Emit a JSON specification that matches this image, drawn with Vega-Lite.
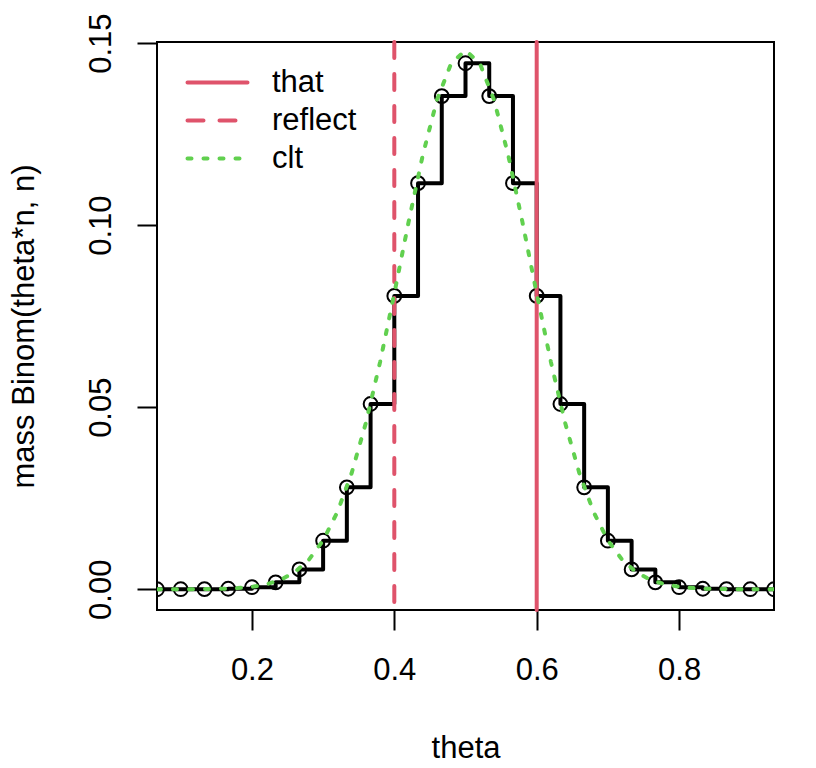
{
  "$schema": "https://vega.github.io/schema/vega-lite/v6.json",
  "width": 617,
  "height": 568,
  "autosize": "none",
  "padding": {"left": 157, "top": 42, "right": 42, "bottom": 158},
  "background": "white",
  "datasets": {
    "pmf": [
      {"theta": 0.066667, "mass": 0.0000004},
      {"theta": 0.1, "mass": 0.0000038},
      {"theta": 0.133333, "mass": 0.0000255},
      {"theta": 0.166667, "mass": 0.0001327},
      {"theta": 0.2, "mass": 0.000553},
      {"theta": 0.233333, "mass": 0.001896},
      {"theta": 0.266667, "mass": 0.005451},
      {"theta": 0.3, "mass": 0.013325},
      {"theta": 0.333333, "mass": 0.027982},
      {"theta": 0.366667, "mass": 0.050875},
      {"theta": 0.4, "mass": 0.080553},
      {"theta": 0.433333, "mass": 0.111535},
      {"theta": 0.466667, "mass": 0.135435},
      {"theta": 0.5, "mass": 0.144464},
      {"theta": 0.533333, "mass": 0.135435},
      {"theta": 0.566667, "mass": 0.111535},
      {"theta": 0.6, "mass": 0.080553},
      {"theta": 0.633333, "mass": 0.050875},
      {"theta": 0.666667, "mass": 0.027982},
      {"theta": 0.7, "mass": 0.013325},
      {"theta": 0.733333, "mass": 0.005451},
      {"theta": 0.766667, "mass": 0.001896},
      {"theta": 0.8, "mass": 0.000553},
      {"theta": 0.833333, "mass": 0.0001327},
      {"theta": 0.866667, "mass": 0.0000255},
      {"theta": 0.9, "mass": 0.0000038},
      {"theta": 0.933333, "mass": 0.0000004}
    ],
    "clt": [
      {"theta": 0.066667, "mass": 0.0000019, "series": "clt"},
      {"theta": 0.08, "mass": 0.0000037, "series": "clt"},
      {"theta": 0.1, "mass": 0.00001, "series": "clt"},
      {"theta": 0.12, "mass": 0.0000256, "series": "clt"},
      {"theta": 0.14, "mass": 0.000062, "series": "clt"},
      {"theta": 0.16, "mass": 0.000143, "series": "clt"},
      {"theta": 0.18, "mass": 0.000317, "series": "clt"},
      {"theta": 0.2, "mass": 0.000669, "series": "clt"},
      {"theta": 0.22, "mass": 0.00134, "series": "clt"},
      {"theta": 0.24, "mass": 0.002564, "series": "clt"},
      {"theta": 0.26, "mass": 0.00467, "series": "clt"},
      {"theta": 0.28, "mass": 0.008109, "series": "clt"},
      {"theta": 0.3, "mass": 0.01343, "series": "clt"},
      {"theta": 0.32, "mass": 0.02118, "series": "clt"},
      {"theta": 0.34, "mass": 0.03185, "series": "clt"},
      {"theta": 0.36, "mass": 0.04566, "series": "clt"},
      {"theta": 0.38, "mass": 0.06238, "series": "clt"},
      {"theta": 0.4, "mass": 0.08122, "series": "clt"},
      {"theta": 0.42, "mass": 0.10081, "series": "clt"},
      {"theta": 0.44, "mass": 0.11924, "series": "clt"},
      {"theta": 0.46, "mass": 0.13445, "series": "clt"},
      {"theta": 0.48, "mass": 0.14449, "series": "clt"},
      {"theta": 0.5, "mass": 0.148, "series": "clt"},
      {"theta": 0.52, "mass": 0.14449, "series": "clt"},
      {"theta": 0.54, "mass": 0.13445, "series": "clt"},
      {"theta": 0.56, "mass": 0.11924, "series": "clt"},
      {"theta": 0.58, "mass": 0.10081, "series": "clt"},
      {"theta": 0.6, "mass": 0.08122, "series": "clt"},
      {"theta": 0.62, "mass": 0.06238, "series": "clt"},
      {"theta": 0.64, "mass": 0.04566, "series": "clt"},
      {"theta": 0.66, "mass": 0.03185, "series": "clt"},
      {"theta": 0.68, "mass": 0.02118, "series": "clt"},
      {"theta": 0.7, "mass": 0.01343, "series": "clt"},
      {"theta": 0.72, "mass": 0.008109, "series": "clt"},
      {"theta": 0.74, "mass": 0.00467, "series": "clt"},
      {"theta": 0.76, "mass": 0.002564, "series": "clt"},
      {"theta": 0.78, "mass": 0.00134, "series": "clt"},
      {"theta": 0.8, "mass": 0.000669, "series": "clt"},
      {"theta": 0.82, "mass": 0.000317, "series": "clt"},
      {"theta": 0.84, "mass": 0.000143, "series": "clt"},
      {"theta": 0.86, "mass": 0.000062, "series": "clt"},
      {"theta": 0.88, "mass": 0.0000256, "series": "clt"},
      {"theta": 0.9, "mass": 0.00001, "series": "clt"},
      {"theta": 0.92, "mass": 0.0000037, "series": "clt"},
      {"theta": 0.933333, "mass": 0.0000019, "series": "clt"}
    ],
    "vlines": [
      {"theta": 0.6, "series": "that"},
      {"theta": 0.4, "series": "reflect"}
    ]
  },
  "layer": [
    {
      "data": {"name": "pmf"},
      "mark": {"type": "point", "shape": "circle", "filled": false, "color": "black", "strokeWidth": 2, "size": 190, "opacity": 1, "clip": true},
      "encoding": {
        "x": {
          "field": "theta",
          "type": "quantitative",
          "scale": {"domain": [0.066667, 0.933333], "nice": false, "zero": false},
          "axis": {
            "values": [0.2, 0.4, 0.6, 0.8],
            "format": ".1f",
            "title": "theta",
            "titleBaseline": "alphabetic",
            "titleY": 147,
            "labelPadding": 25
          }
        },
        "y": {
          "field": "mass",
          "type": "quantitative",
          "scale": {"domain": [-0.0057, 0.1503], "nice": false, "zero": false},
          "axis": {
            "values": [0, 0.05, 0.1, 0.15],
            "format": ".2f",
            "title": "mass Binom(theta*n, n)",
            "labelAngle": 270,
            "labelAlign": "center",
            "labelBaseline": "alphabetic",
            "labelPadding": 27,
            "titleAngle": 270,
            "titleAlign": "center",
            "titleBaseline": "alphabetic",
            "titleX": -124,
            "titleY": 284
          }
        }
      }
    },
    {
      "data": {"name": "pmf"},
      "mark": {"type": "line", "interpolate": "step-after", "color": "black", "strokeWidth": 4, "strokeJoin": "round", "clip": true},
      "encoding": {
        "x": {"field": "theta", "type": "quantitative"},
        "y": {"field": "mass", "type": "quantitative"}
      }
    },
    {
      "data": {"name": "vlines"},
      "mark": {"type": "rule", "strokeWidth": 4, "strokeCap": "round"},
      "encoding": {
        "x": {"field": "theta", "type": "quantitative"},
        "color": {
          "field": "series",
          "type": "nominal",
          "scale": {"domain": ["that", "reflect", "clt"], "range": ["#DF536B", "#DF536B", "#61D04F"]},
          "legend": {"title": null, "encode": {"symbols": {"update": {"strokeCap": {"value": "round"}}}}}
        },
        "strokeDash": {
          "field": "series",
          "type": "nominal",
          "scale": {"domain": ["that", "reflect", "clt"], "range": [[1, 0], [16, 16], [4, 12]]},
          "legend": {"title": null, "encode": {"symbols": {"update": {"strokeCap": {"value": "round"}}}}}
        }
      }
    },
    {
      "data": {"name": "clt"},
      "mark": {"type": "line", "strokeWidth": 4, "strokeCap": "round", "clip": true},
      "encoding": {
        "x": {"field": "theta", "type": "quantitative"},
        "y": {"field": "mass", "type": "quantitative"},
        "color": {"field": "series", "type": "nominal", "legend": {"title": null, "encode": {"symbols": {"update": {"strokeCap": {"value": "round"}}}}}},
        "strokeDash": {"field": "series", "type": "nominal", "legend": {"title": null, "encode": {"symbols": {"update": {"strokeCap": {"value": "round"}}}}}}
      }
    }
  ],
  "config": {
    "view": {"stroke": "black", "strokeWidth": 2},
    "font": "Liberation Sans",
    "axis": {
      "domain": false,
      "grid": false,
      "ticks": true,
      "tickSize": 20,
      "tickWidth": 2,
      "tickColor": "black",
      "labelFont": "Liberation Sans",
      "labelFontSize": 31,
      "labelColor": "black",
      "labelFlush": false,
      "labelOverlap": false,
      "titleFont": "Liberation Sans",
      "titleFontSize": 31,
      "titleFontWeight": "normal",
      "titleColor": "black"
    },
    "legend": {
      "orient": "none",
      "legendX": 45,
      "legendY": 25,
      "padding": 0,
      "symbolType": "M-3,0H3",
      "symbolSize": 400,
      "symbolStrokeWidth": 4,
      "labelFont": "Liberation Sans",
      "labelFontSize": 31,
      "labelColor": "black",
      "labelOffset": 39,
      "rowPadding": 6,
      "labelLimit": 300
    }
  }
}
